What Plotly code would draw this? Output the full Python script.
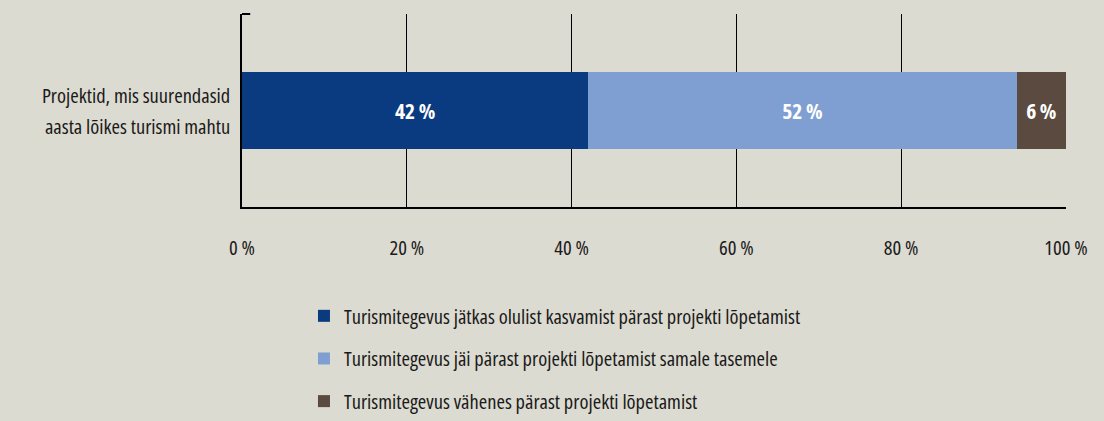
import plotly.graph_objects as go

categories = ["<span style='font-size:20.5px'>Projektid, mis suurendasid</span><br>"
              "<span style='font-size:20.5px'>aasta lõikes turismi mahtu</span>"]
series_names = [
    "Turismitegevus jätkas olulist kasvamist pärast projekti lõpetamist",
    "Turismitegevus jäi pärast projekti lõpetamist samale tasemele",
    "Turismitegevus vähenes pärast projekti lõpetamist",
]
series_values = [[42], [52], [6]]
colors = ["#0a3a80", "#7f9fd3", "#5a4a3f"]
tick_vals = [0, 20, 40, 60, 80, 100]
tick_text = ["0 %", "20 %", "40 %", "60 %", "80 %", "100 %"]

FONT = "Open Sans"
BG = "#dcdbd1"
TXT = "#1a1a1a"


def f(size, **kw):
    return dict(family=FONT, size=size, **kw)


fig = go.Figure()
for i, (name, vals) in enumerate(zip(series_names, series_values)):
    fig.add_trace(go.Bar(
        y=categories, x=vals, name=name, orientation="h",
        marker=dict(color=colors[i], line=dict(width=0)),
        text=[f"{v}\u2009%" for v in vals],
        textposition="inside", insidetextanchor="middle",
        textfont=f(21.5, color="white", weight="bold"),
        legendgroup=f"g{i}",
        width=0.404,
        hoverinfo="skip",
    ))

fig.update_layout(
    barmode="stack",
    width=1104, height=421,
    paper_bgcolor=BG, plot_bgcolor=BG,
    margin=dict(l=242, r=38, t=14, b=0),
    font=f(20.5, color=TXT),
    showlegend=True,
    legend=dict(
        x=0.0752, y=0, xanchor="left", yanchor="bottom",
        orientation="v", traceorder="grouped", tracegroupgap=13,
        font=f(20.5, color=TXT),
        bgcolor="rgba(0,0,0,0)",
    ),
    xaxis=dict(
        range=[0, 100], tickvals=tick_vals, ticktext=tick_text,
        showgrid=True, gridcolor="#000000", gridwidth=1,
        showline=True, linecolor="#000000", linewidth=2,
        zeroline=False, ticks="", ticklabelstandoff=21,
        tickfont=f(20.5, color=TXT),
        fixedrange=True, automargin=False,
    ),
    yaxis=dict(
        domain=[214 / 407, 1],
        range=[-0.5, 0.5],
        showline=True, linecolor="#000000", linewidth=2,
        showgrid=False, zeroline=False, ticks="",
        ticklabelstandoff=5,
        tickfont=f(24, color=TXT),
        fixedrange=True, automargin=False,
    ),
    shapes=[dict(type="line", xref="x domain", yref="y domain",
                 x0=0, x1=0.01, y0=1, y1=1,
                 line=dict(color="#000000", width=2))],
)

post = (
    "document.body.style.margin='0';"
    "var st=document.createElement('style');"
    "st.textContent='svg text{font-stretch:condensed !important;}';"
    "document.head.appendChild(st);"
    "var gd=document.getElementById('{plot_id}');"
    "Plotly.newPlot(gd, gd.data, gd.layout, {displayModeBar:false});"
)
fig.write_html("out.html", post_script=post, config={"displayModeBar": False})
